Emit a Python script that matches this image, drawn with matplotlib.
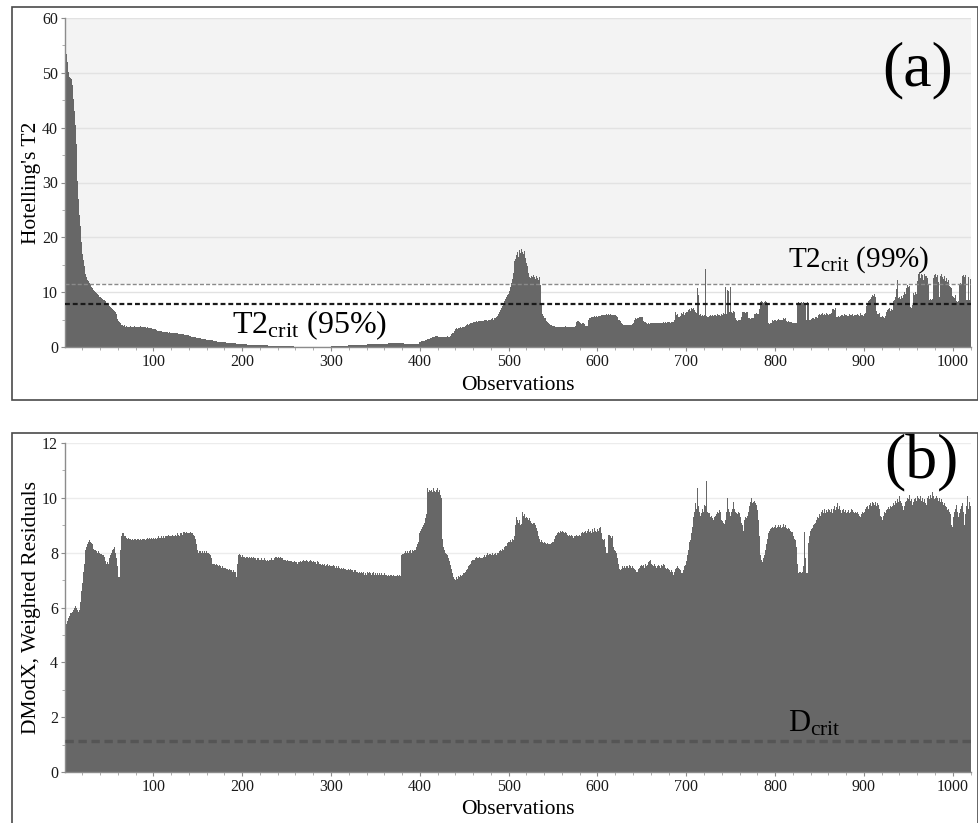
import numpy as np
import matplotlib
matplotlib.use("Agg")
import matplotlib.pyplot as plt
from matplotlib.patches import Rectangle
from matplotlib.ticker import MultipleLocator

plt.rcParams['font.family'] = ['Liberation Serif', 'DejaVu Serif']
plt.rcParams['mathtext.fontset'] = 'custom'
plt.rcParams['mathtext.rm'] = 'Liberation Serif'
plt.rcParams['mathtext.it'] = 'Liberation Serif:italic'

# ---------------- data: Hotelling's T2 (observations 1..1020) ----------------
t2_0001_0200 = [
    54.8, 53.5, 52.0, 50.1, 49.3, 49.2, 49.0, 48.8, 47.8, 45.2, 43.0, 40.5, 37.1, 33.5, 30.2, 27.0, 24.1, 22.0, 19.2, 17.0,
    15.8, 14.8, 14.0, 13.3, 12.8, 12.3, 12.0, 11.6, 11.3, 11.0, 10.8, 10.6, 10.4, 10.2, 10.0, 9.8, 9.6, 9.4, 9.2, 9.1,
    9.0, 8.9, 8.7, 8.6, 8.5, 8.3, 8.1, 8.0, 7.8, 7.7, 7.5, 7.3, 7.1, 6.9, 6.7, 6.5, 6.3, 6.0, 5.5, 5.1,
    4.8, 4.5, 4.3, 4.1, 4.0, 3.9, 4.0, 3.8, 3.7, 3.8, 3.7, 3.7, 3.6, 3.8, 3.7, 3.7, 3.6, 3.7, 3.8, 3.7,
    3.6, 3.7, 3.7, 3.6, 3.7, 3.8, 3.6, 3.7, 3.6, 3.6, 3.7, 3.5, 3.6, 3.5, 3.5, 3.4, 3.4, 3.4, 3.3, 3.3,
    3.2, 3.2, 3.1, 3.1, 3.0, 3.0, 2.9, 2.9, 2.9, 2.8, 2.8, 2.8, 2.7, 2.7, 2.7, 2.7, 2.6, 2.7, 2.6, 2.6,
    2.6, 2.5, 2.6, 2.5, 2.5, 2.5, 2.5, 2.4, 2.4, 2.4, 2.3, 2.4, 2.3, 2.3, 2.2, 2.2, 2.2, 2.2, 2.1, 2.1,
    2.0, 2.0, 1.9, 1.9, 1.9, 1.8, 1.8, 1.7, 1.7, 1.7, 1.6, 1.6, 1.6, 1.5, 1.5, 1.5, 1.4, 1.4, 1.4, 1.3,
    1.3, 1.3, 1.3, 1.2, 1.2, 1.2, 1.2, 1.15, 1.1, 1.1, 1.05, 1.0, 1.0, 1.0, 0.95, 0.95, 0.9, 0.9, 0.85, 0.85,
    0.85, 0.8, 0.8, 0.8, 0.75, 0.75, 0.7, 0.7, 0.7, 0.65, 0.65, 0.65, 0.6, 0.6, 0.6, 0.6, 0.55, 0.55, 0.55, 0.55,
]
t2_0201_0400 = [
    0.5, 0.5, 0.5, 0.5, 0.5, 0.45, 0.45, 0.45, 0.45, 0.45, 0.4, 0.4, 0.4, 0.4, 0.4, 0.4, 0.35, 0.35, 0.35, 0.35,
    0.35, 0.35, 0.3, 0.3, 0.3, 0.3, 0.3, 0.3, 0.3, 0.25, 0.25, 0.25, 0.25, 0.25, 0.25, 0.2, 0.2, 0.2, 0.2, 0.2,
    0.2, 0.2, 0.2, 0.15, 0.15, 0.15, 0.15, 0.15, 0.15, 0.15, 0.1, 0.1, 0.1, 0.1, 0.1, 0.1, 0.1, 0.1, 0.08, 0.08,
    0.07, 0.06, 0.06, 0.05, 0.05, 0.05, 0.04, 0.04, 0.04, 0.04, 0.03, 0.03, 0.03, 0.03, 0.03, 0.03, 0.03, 0.03, 0.03, 0.03,
    0.03, 0.03, 0.03, 0.03, 0.04, 0.04, 0.04, 0.04, 0.05, 0.05, 0.05, 0.05, 0.06, 0.06, 0.06, 0.07, 0.07, 0.08, 0.08, 0.09,
    0.1, 0.1, 0.11, 0.12, 0.13, 0.14, 0.15, 0.16, 0.17, 0.18, 0.2, 0.2, 0.21, 0.22, 0.23, 0.24, 0.25, 0.26, 0.27, 0.28,
    0.29, 0.3, 0.3, 0.31, 0.32, 0.33, 0.34, 0.34, 0.35, 0.35, 0.36, 0.37, 0.38, 0.39, 0.4, 0.41, 0.42, 0.43, 0.44, 0.45,
    0.46, 0.47, 0.48, 0.49, 0.5, 0.5, 0.51, 0.52, 0.53, 0.54, 0.55, 0.55, 0.56, 0.57, 0.58, 0.58, 0.59, 0.6, 0.6, 0.61,
    0.62, 0.62, 0.63, 0.63, 0.64, 0.65, 0.65, 0.66, 0.65, 0.66, 0.67, 0.66, 0.65, 0.66, 0.67, 0.66, 0.65, 0.66, 0.65, 0.65,
    0.64, 0.64, 0.63, 0.62, 0.62, 0.61, 0.6, 0.6, 0.58, 0.57, 0.56, 0.55, 0.54, 0.52, 0.51, 0.5, 0.5, 0.6, 0.75, 0.9,
]
t2_0401_0600 = [
    1.0, 1.05, 1.1, 1.12, 1.15, 1.2, 1.3, 1.4, 1.45, 1.5, 1.55, 1.6, 1.7, 1.75, 1.8, 1.85, 1.9, 1.95, 2.0, 2.0,
    1.9, 1.85, 1.8, 1.8, 1.85, 1.9, 1.8, 1.85, 1.9, 1.9, 1.95, 1.9, 1.9, 2.0, 2.0, 2.3, 2.5, 2.6, 3.0, 3.3,
    3.4, 3.3, 3.4, 3.5, 3.5, 3.6, 3.5, 3.6, 3.7, 3.6, 3.9, 4.1, 4.0, 4.2, 4.1, 4.2, 4.3, 4.4, 4.3, 4.5,
    4.5, 4.6, 4.5, 4.7, 4.6, 4.7, 4.8, 4.7, 4.8, 4.9, 4.8, 4.8, 4.9, 5.0, 4.9, 4.8, 4.9, 5.0, 4.9, 4.9,
    5.1, 5.2, 5.0, 5.2, 5.3, 5.5, 5.7, 5.9, 6.0, 6.4, 6.8, 7.2, 7.5, 8.0, 8.4, 8.7, 8.9, 9.2, 9.5, 9.6,
    10.3, 11.0, 11.6, 12.4, 13.5, 14.8, 15.6, 16.0, 16.8, 17.3, 16.5, 17.6, 17.1, 17.8, 16.9, 17.4, 17.0, 17.5, 16.2, 15.3,
    14.8, 13.5, 12.8, 12.5, 12.6, 12.9, 12.7, 13.1, 12.8, 12.4, 12.9, 12.6, 12.8, 12.2, 12.7, 11.3, 8.0, 6.1, 5.6, 5.3,
    5.2, 5.0, 4.7, 4.5, 4.3, 4.2, 4.1, 4.0, 3.9, 3.9, 3.8, 3.8, 3.7, 3.7, 3.7, 3.6, 3.7, 3.7, 3.6, 3.7,
    3.7, 3.6, 3.7, 3.8, 3.7, 3.7, 3.6, 3.7, 3.8, 3.7, 3.7, 3.6, 3.7, 3.7, 3.8, 4.6, 4.8, 4.7, 4.8, 4.5,
    4.3, 4.2, 4.4, 4.3, 4.2, 3.8, 3.8, 3.9, 3.8, 5.0, 5.2, 5.3, 5.4, 5.5, 5.4, 5.5, 5.6, 5.5, 5.6, 5.5,
]
t2_0601_0800 = [
    5.6, 5.7, 5.6, 5.7, 5.8, 5.8, 5.9, 5.8, 5.9, 6.0, 5.9, 6.0, 6.0, 5.9, 6.0, 5.9, 5.8, 5.9, 5.8, 5.8,
    5.7, 5.8, 5.4, 5.0, 4.9, 4.8, 4.3, 4.2, 4.1, 4.1, 4.0, 4.1, 4.1, 4.0, 4.1, 4.1, 4.0, 4.1, 4.2, 4.2,
    4.3, 5.0, 5.2, 5.1, 5.2, 5.3, 5.4, 5.5, 5.3, 5.4, 5.5, 4.8, 4.6, 4.5, 4.3, 4.2, 4.3, 4.3, 4.2, 4.3,
    4.3, 4.4, 4.3, 4.3, 4.4, 4.3, 4.4, 4.3, 4.4, 4.4, 4.3, 4.4, 4.4, 4.5, 4.4, 4.4, 4.5, 4.4, 4.5, 4.5,
    4.5, 4.4, 4.5, 4.6, 4.5, 4.6, 5.0, 6.3, 5.8, 6.1, 5.5, 5.4, 5.6, 5.5, 6.2, 6.0, 6.4, 5.9, 6.2, 6.4,
    6.3, 6.8, 6.5, 7.0, 6.6, 7.1, 6.9, 7.2, 6.7, 6.4, 6.2, 6.5, 10.7, 9.5, 5.8, 6.0, 5.6, 5.9, 5.7, 5.8,
    5.5, 14.3, 5.6, 5.4, 5.5, 5.6, 5.8, 5.7, 5.9, 5.8, 5.6, 5.9, 5.8, 5.7, 6.0, 5.8, 5.9, 5.7, 6.0, 6.1,
    5.9, 6.2, 6.0, 11.0, 6.1, 10.4, 10.2, 6.0, 6.3, 11.0, 6.4, 6.2, 6.5, 6.3, 5.2, 4.9, 5.0, 4.8, 5.0, 4.9,
    4.9, 5.5, 6.4, 6.3, 6.5, 6.4, 6.2, 6.4, 6.3, 5.3, 5.2, 5.1, 5.2, 5.3, 5.2, 5.2, 6.1, 6.0, 6.2, 6.1,
    6.1, 7.0, 8.1, 8.2, 8.3, 8.2, 8.1, 8.2, 8.3, 8.2, 8.1, 4.4, 4.3, 4.2, 4.4, 4.3, 4.9, 4.8, 4.9, 5.0,
]
t2_0801_1020 = [
    4.9, 4.8, 5.0, 5.1, 4.9, 5.0, 4.9, 5.0, 5.2, 5.3, 5.1, 5.2, 4.8, 4.6, 4.7, 4.6, 4.5, 4.6, 4.6, 4.4,
    4.3, 4.4, 4.3, 4.3, 8.1, 8.2, 8.0, 8.3, 8.1, 8.2, 8.0, 8.2, 8.1, 7.9, 5.0, 8.2, 8.1, 8.0, 4.9, 5.0,
    5.1, 5.2, 5.3, 5.1, 5.4, 5.2, 5.5, 5.3, 5.8, 6.1, 5.9, 6.0, 6.2, 5.9, 6.1, 6.0, 5.8, 6.2, 6.1, 5.9,
    6.1, 6.0, 6.2, 6.1, 6.9, 7.0, 6.8, 7.1, 5.4, 5.5, 5.6, 5.5, 5.8, 5.6, 5.9, 5.8, 5.7, 6.0, 5.8, 5.9,
    5.6, 5.8, 5.7, 6.0, 5.9, 5.8, 6.1, 5.7, 5.9, 5.8, 5.6, 5.9, 6.0, 5.8, 5.7, 6.2, 5.9, 5.8, 5.7, 5.9,
    6.0, 6.2, 7.5, 8.0, 8.3, 8.5, 8.8, 9.2, 9.0, 9.5, 9.3, 9.6, 9.2, 6.5, 6.1, 6.0, 6.2, 5.6, 5.5, 5.4,
    5.6, 5.5, 5.3, 5.6, 6.4, 6.7, 6.5, 6.9, 7.2, 6.6, 7.0, 6.8, 8.4, 8.6, 8.2, 9.1, 10.5, 12.2, 9.0, 9.2,
    8.8, 9.3, 9.0, 9.8, 9.5, 10.1, 9.7, 10.8, 11.3, 10.9, 11.2, 7.3, 7.5, 7.2, 7.6, 9.8, 9.5, 10.0, 9.7, 12.0,
    13.4, 12.8, 13.6, 12.5, 13.3, 13.1, 12.2, 13.4, 12.9, 13.0, 13.5, 12.6, 11.5, 8.6, 8.8, 8.5, 8.7, 12.5, 13.2, 12.6,
    13.4, 12.8, 13.1, 11.8, 9.2, 12.9, 13.3, 12.7, 11.0, 12.4, 13.0, 12.1, 12.6, 11.8, 12.3, 11.2, 10.9, 11.1, 10.8, 9.3,
    9.2, 9.0, 9.4, 8.3, 8.2, 8.4, 8.1, 11.5, 11.7, 11.4, 12.9, 13.1, 12.7, 13.2, 8.6, 8.7, 8.5, 12.8, 8.6, 12.4,
]

# ---------------- data: DModX, weighted residuals (observations 1..1020) ----------------
dmodx_0001_0200 = [
    5.4, 5.4, 5.5, 5.6, 5.7, 5.7, 5.8, 5.8, 5.85, 5.9, 6.0, 6.05, 6.0, 5.95, 5.9, 5.85, 5.9, 6.2, 6.6, 6.9,
    7.3, 7.6, 7.9, 8.1, 8.2, 8.3, 8.4, 8.45, 8.4, 8.35, 8.3, 8.2, 8.15, 8.1, 8.1, 8.05, 8.0, 8.05, 8.0, 7.95,
    8.0, 7.95, 7.9, 7.9, 7.85, 7.7, 7.6, 7.65, 7.6, 7.7, 7.8, 7.9, 8.0, 8.1, 8.15, 8.2, 8.0, 7.8, 7.6, 7.5,
    7.1, 7.1, 8.1, 8.6, 8.7, 8.7, 8.6, 8.55, 8.6, 8.55, 8.5, 8.55, 8.5, 8.5, 8.45, 8.5, 8.5, 8.45, 8.5, 8.5,
    8.45, 8.5, 8.5, 8.45, 8.5, 8.5, 8.45, 8.5, 8.5, 8.5, 8.45, 8.5, 8.55, 8.5, 8.5, 8.55, 8.5, 8.55, 8.5, 8.55,
    8.5, 8.55, 8.55, 8.5, 8.55, 8.6, 8.55, 8.55, 8.6, 8.55, 8.6, 8.6, 8.55, 8.6, 8.6, 8.6, 8.65, 8.6, 8.6, 8.6,
    8.6, 8.65, 8.6, 8.6, 8.65, 8.6, 8.7, 8.65, 8.6, 8.65, 8.7, 8.7, 8.65, 8.75, 8.75, 8.7, 8.75, 8.7, 8.75, 8.7,
    8.7, 8.75, 8.7, 8.7, 8.65, 8.6, 8.5, 8.5, 8.3, 8.1, 8.0, 8.05, 8.05, 8.0, 8.05, 8.0, 8.0, 8.05, 8.0, 8.05,
    8.0, 8.0, 7.95, 7.9, 7.8, 7.7, 7.6, 7.6, 7.6, 7.55, 7.6, 7.55, 7.5, 7.55, 7.5, 7.5, 7.45, 7.5, 7.45, 7.45,
    7.45, 7.4, 7.4, 7.4, 7.35, 7.4, 7.35, 7.35, 7.3, 7.35, 7.3, 7.3, 7.3, 7.1, 7.6, 7.9, 7.95, 7.9, 7.85, 7.9,
]
dmodx_0201_0400 = [
    7.85, 7.9, 7.85, 7.8, 7.85, 7.85, 7.8, 7.85, 7.8, 7.85, 7.8, 7.8, 7.85, 7.8, 7.8, 7.75, 7.8, 7.8, 7.75, 7.8,
    7.75, 7.8, 7.75, 7.75, 7.8, 7.75, 7.7, 7.75, 7.75, 7.7, 7.75, 7.75, 7.8, 7.75, 7.75, 7.8, 7.85, 7.8, 7.85, 7.8,
    7.85, 7.8, 7.85, 7.8, 7.8, 7.75, 7.8, 7.75, 7.75, 7.7, 7.75, 7.7, 7.7, 7.7, 7.65, 7.7, 7.65, 7.65, 7.7, 7.65,
    7.65, 7.6, 7.65, 7.6, 7.65, 7.7, 7.65, 7.7, 7.75, 7.7, 7.7, 7.75, 7.7, 7.7, 7.65, 7.7, 7.75, 7.7, 7.65, 7.7,
    7.65, 7.7, 7.65, 7.6, 7.7, 7.65, 7.6, 7.6, 7.55, 7.6, 7.6, 7.55, 7.6, 7.5, 7.55, 7.6, 7.5, 7.55, 7.5, 7.55,
    7.5, 7.5, 7.55, 7.5, 7.45, 7.5, 7.45, 7.5, 7.45, 7.45, 7.4, 7.45, 7.4, 7.45, 7.4, 7.4, 7.35, 7.4, 7.35, 7.4,
    7.35, 7.4, 7.35, 7.35, 7.3, 7.35, 7.3, 7.35, 7.3, 7.3, 7.25, 7.3, 7.25, 7.3, 7.25, 7.25, 7.3, 7.2, 7.25, 7.2,
    7.3, 7.25, 7.3, 7.25, 7.25, 7.2, 7.25, 7.3, 7.2, 7.25, 7.2, 7.25, 7.2, 7.2, 7.25, 7.2, 7.25, 7.2, 7.2, 7.25,
    7.2, 7.2, 7.25, 7.15, 7.2, 7.15, 7.2, 7.2, 7.15, 7.2, 7.15, 7.2, 7.15, 7.15, 7.2, 7.15, 7.2, 7.15, 7.9, 7.95,
    8.0, 7.95, 8.0, 8.05, 8.0, 8.05, 8.0, 8.05, 8.1, 8.05, 8.0, 8.1, 8.05, 8.1, 8.1, 8.2, 8.3, 8.4, 8.6, 8.7,
]
dmodx_0401_0600 = [
    8.8, 8.85, 8.95, 9.0, 9.1, 9.25, 9.4, 9.8, 10.35, 10.2, 10.3, 10.25, 10.3, 10.2, 10.35, 10.25, 10.3, 10.2, 10.3, 10.35,
    10.2, 10.3, 10.1, 10.0, 8.95, 8.5, 8.2, 8.1, 8.0, 7.95, 7.9, 7.8, 7.7, 7.6, 7.55, 7.4, 7.25, 7.1, 7.05, 7.0,
    7.1, 7.05, 7.1, 7.15, 7.1, 7.2, 7.15, 7.2, 7.25, 7.25, 7.3, 7.3, 7.35, 7.4, 7.5, 7.55, 7.6, 7.7, 7.75, 7.75,
    7.8, 7.75, 7.8, 7.85, 7.8, 7.8, 7.85, 7.8, 7.8, 7.85, 7.8, 7.85, 7.9, 7.85, 7.9, 7.97, 7.9, 7.95, 7.9, 7.95,
    7.9, 8.0, 7.9, 7.95, 8.0, 7.9, 8.0, 7.95, 8.0, 8.05, 8.1, 8.05, 8.15, 8.1, 8.2, 8.25, 8.3, 8.25, 8.35, 8.4,
    8.4, 8.45, 8.4, 8.5, 8.45, 8.5, 8.6, 9.0, 9.3, 9.2, 9.1, 9.2, 9.0, 9.05, 9.3, 9.5, 9.35, 9.4, 9.25, 9.3,
    9.25, 9.2, 9.25, 9.1, 9.15, 9.1, 9.05, 9.1, 9.1, 9.0, 8.9, 8.8, 8.7, 8.6, 8.5, 8.4, 8.45, 8.4, 8.35, 8.4,
    8.35, 8.35, 8.3, 8.35, 8.3, 8.3, 8.3, 8.35, 8.4, 8.4, 8.45, 8.5, 8.6, 8.65, 8.7, 8.75, 8.7, 8.8, 8.75, 8.8,
    8.8, 8.75, 8.7, 8.75, 8.7, 8.65, 8.6, 8.65, 8.6, 8.6, 8.65, 8.6, 8.55, 8.6, 8.6, 8.65, 8.6, 8.55, 8.6, 8.65,
    8.6, 8.7, 8.75, 8.7, 8.75, 8.8, 8.75, 8.7, 8.8, 8.85, 8.75, 8.8, 8.7, 8.85, 8.8, 8.75, 8.9, 8.8, 8.75, 8.85,
]
dmodx_0601_0800 = [
    8.8, 8.9, 8.95, 8.9, 8.7, 8.5, 8.45, 8.5, 8.2, 8.0, 8.0, 8.65, 8.6, 8.65, 8.6, 8.55, 8.6, 8.2, 8.1, 8.05,
    8.0, 7.97, 7.8, 7.6, 7.4, 7.35, 7.4, 7.5, 7.45, 7.5, 7.55, 7.45, 7.5, 7.5, 7.45, 7.55, 7.5, 7.45, 7.5, 7.5,
    7.45, 7.4, 7.35, 7.3, 7.3, 7.4, 7.45, 7.5, 7.4, 7.55, 7.5, 7.55, 7.45, 7.6, 7.5, 7.55, 7.65, 7.6, 7.7, 7.75,
    7.6, 7.55, 7.5, 7.6, 7.5, 7.45, 7.45, 7.5, 7.55, 7.5, 7.45, 7.55, 7.5, 7.6, 7.55, 7.5, 7.45, 7.4, 7.45, 7.4,
    7.35, 7.3, 7.35, 7.3, 7.25, 7.2, 7.3, 7.4, 7.45, 7.5, 7.45, 7.4, 7.35, 7.3, 7.25, 7.25, 7.35, 7.5, 7.55, 7.7,
    7.9, 8.1, 8.3, 8.4, 8.45, 8.7, 8.95, 9.3, 9.5, 9.8, 9.6, 9.9, 10.35, 9.7, 9.5, 9.35, 9.45, 9.6, 9.5, 9.75,
    9.4, 9.7, 10.6, 9.5, 9.45, 9.45, 9.3, 9.35, 9.25, 9.3, 9.2, 9.3, 9.35, 9.4, 9.5, 9.45, 9.55, 9.5, 9.3, 9.2,
    9.15, 9.1, 9.05, 9.2, 9.5, 10.0, 9.6, 9.4, 9.5, 9.35, 9.5, 9.6, 9.85, 9.6, 9.5, 9.45, 9.5, 9.4, 9.5, 9.45,
    9.3, 9.1, 9.0, 8.8, 9.0, 9.2, 9.3, 9.25, 9.35, 9.5, 9.7, 9.85, 10.0, 9.9, 9.8, 9.85, 9.9, 9.8, 9.75, 9.55,
    9.2, 8.6, 8.2, 7.9, 7.75, 7.65, 7.8, 7.9, 8.1, 8.3, 8.5, 8.6, 8.7, 8.8, 8.85, 8.9, 8.95, 8.9, 8.95, 9.0,
]
dmodx_0801_1020 = [
    8.95, 8.9, 8.95, 9.0, 8.95, 9.0, 8.9, 8.95, 9.05, 9.0, 8.95, 9.0, 8.9, 8.85, 8.9, 8.85, 8.8, 8.75, 8.8, 8.75,
    8.6, 8.5, 8.45, 8.2, 7.6, 7.25, 7.3, 7.25, 7.3, 7.25, 7.3, 7.5, 8.75, 7.8, 7.25, 7.25, 8.2, 8.35, 8.6, 8.8,
    8.85, 8.9, 9.0, 9.05, 9.1, 9.05, 9.2, 9.3, 9.25, 9.4, 9.35, 9.5, 9.55, 9.45, 9.5, 9.6, 9.45, 9.55, 9.5, 9.6,
    9.55, 9.5, 9.6, 9.55, 9.45, 9.6, 9.7, 9.55, 9.65, 9.8, 9.6, 9.7, 9.5, 9.55, 9.45, 9.55, 9.6, 9.5, 9.55, 9.45,
    9.5, 9.6, 9.55, 9.45, 9.5, 9.6, 9.55, 9.5, 9.45, 9.5, 9.55, 9.45, 9.5, 9.4, 9.35, 9.3, 9.4, 9.5, 9.45, 9.55,
    9.5, 9.6, 9.65, 9.7, 9.6, 9.75, 9.8, 9.7, 9.75, 9.85, 9.8, 9.75, 9.85, 9.7, 9.8, 9.75, 9.6, 9.5, 9.35, 9.3,
    9.2, 9.35, 9.5, 9.45, 9.55, 9.6, 9.5, 9.65, 9.6, 9.7, 9.65, 9.7, 9.8, 9.75, 9.85, 9.9, 9.8, 9.95, 9.85, 10.05,
    9.9, 9.8, 9.7, 9.75, 9.55, 9.7, 9.85, 9.9, 10.0, 9.95, 10.1, 9.9, 9.8, 9.95, 9.75, 9.85, 9.95, 10.0, 9.9, 10.05,
    10.0, 10.15, 9.95, 10.05, 9.9, 10.0, 9.85, 9.95, 9.8, 9.75, 9.9, 10.0, 10.05, 9.95, 10.1, 10.0, 10.2, 10.05, 9.95, 10.1,
    10.0, 10.05, 10.0, 9.9, 10.0, 9.85, 9.95, 9.85, 9.8, 9.75, 9.8, 9.7, 9.65, 9.55, 9.6, 9.5, 9.4, 9.2, 9.0, 8.95,
    9.3, 9.5, 9.6, 9.75, 9.5, 9.3, 9.2, 9.45, 9.6, 9.7, 9.8, 9.5, 9.0, 9.4, 9.7, 9.9, 10.05, 9.6, 9.85, 9.7,
]

t2_crit_95 = 7.85
t2_crit_99 = 11.5
d_crit = 1.13

t2_values = t2_0001_0200 + t2_0201_0400 + t2_0401_0600 + t2_0601_0800 + t2_0801_1020
dmodx_values = dmodx_0001_0200 + dmodx_0201_0400 + dmodx_0401_0600 + dmodx_0601_0800 + dmodx_0801_1020
obs_t2 = np.arange(1, len(t2_values) + 1)
obs_d = np.arange(1, len(dmodx_values) + 1)

# ---------------- figure ----------------
W, H = 979, 823
fig = plt.figure(figsize=(W / 100, H / 100), dpi=100)
fig.patch.set_facecolor('white')

def fx(px):
    return px / W

def fy(py):
    return 1 - py / H

# panel frames
fig.add_artist(Rectangle((fx(12), fy(400)), fx(978) - fx(12), fy(7) - fy(400),
                         transform=fig.transFigure, fill=False, edgecolor='#4a4a4a', lw=1.2))
fig.add_artist(Rectangle((fx(12), fy(830)), fx(978) - fx(12), fy(433) - fy(830),
                         transform=fig.transFigure, fill=False, edgecolor='#4a4a4a', lw=1.2, clip_on=False))

ax1 = fig.add_axes([fx(65), fy(347), fx(971) - fx(65), fy(18) - fy(347)])
ax2 = fig.add_axes([fx(65), fy(772), fx(971) - fx(65), fy(443) - fy(772)])

bar_color = '#676767'
tick_fs = 11.5
label_fs = 15.5

def style(ax, ymax, ymajor, yminor):
    ax.set_facecolor('white')
    ax.set_xlim(0.5, 1020.5)
    ax.set_ylim(0, ymax)
    ax.xaxis.set_major_locator(MultipleLocator(100))
    ax.xaxis.set_minor_locator(MultipleLocator(20))
    ax.yaxis.set_major_locator(MultipleLocator(ymajor))
    ax.yaxis.set_minor_locator(MultipleLocator(yminor))
    ax.set_xticks([100, 200, 300, 400, 500, 600, 700, 800, 900, 1000])
    for s in ['top', 'right']:
        ax.spines[s].set_visible(False)
    for s in ['left', 'bottom']:
        ax.spines[s].set_color('#8c8c8c')
        ax.spines[s].set_linewidth(1.0)
    ax.tick_params(axis='both', which='major', direction='out', length=3, width=0.8,
                   color='#8c8c8c', labelsize=tick_fs, labelcolor='#1a1a1a', pad=2)
    ax.tick_params(axis='both', which='minor', direction='out', length=2, width=0.6, color='#a0a0a0')
    ax.set_axisbelow(True)
    ax.set_xlabel('Observations', fontsize=label_fs, labelpad=4)

# ---- panel (a)
style(ax1, 60, 10, 5)
ax1.axhspan(t2_crit_99, 60, color='#f3f3f3', zorder=0, lw=0)
ax1.yaxis.grid(True, which='major', color='#e2e2e2', lw=1.0, zorder=0.5)
ax1.bar(obs_t2, t2_values, width=1.0, color=bar_color, edgecolor='none', zorder=2)
ax1.axhline(t2_crit_99, color='#8a8a8a', lw=1.0, dashes=(2.9, 1.5), zorder=3)
ax1.axhline(t2_crit_95, color='#1a1a1a', lw=1.6, dashes=(2.2, 1.3), zorder=3)
ax1.set_ylabel("Hotelling's T2", fontsize=label_fs, labelpad=1)
ax1.text(189, 2.55, r'T2$_\mathregular{crit}$ (95%)', fontsize=23, ha='left', va='baseline', zorder=4)
ax1.text(814, 14.6, r'T2$_\mathregular{crit}$ (99%)', fontsize=21, ha='left', va='baseline', zorder=4)
ax1.text(fx(918), fy(70), '(a)', transform=fig.transFigure, fontsize=46, ha='center', va='center')

# ---- panel (b)
style(ax2, 12, 2, 1)
ax2.yaxis.grid(True, which='major', color='#ececec', lw=1.0, zorder=0.5)
ax2.bar(obs_d, dmodx_values, width=1.0, color=bar_color, edgecolor='none', zorder=2)
ax2.axhline(d_crit, color='#555555', lw=2.4, dashes=(2.5, 1.4), zorder=3)
ax2.set_ylabel('DModX, Weighted Residuals', fontsize=label_fs, labelpad=1)
ax2.text(814, 1.46, r'D$_\mathregular{crit}$', fontsize=22, ha='left', va='baseline', zorder=4)
ax2.text(fx(921), fy(463), '(b)', transform=fig.transFigure, fontsize=46, ha='center', va='center', zorder=5)

fig.savefig('out.png', dpi=100, facecolor='white')
